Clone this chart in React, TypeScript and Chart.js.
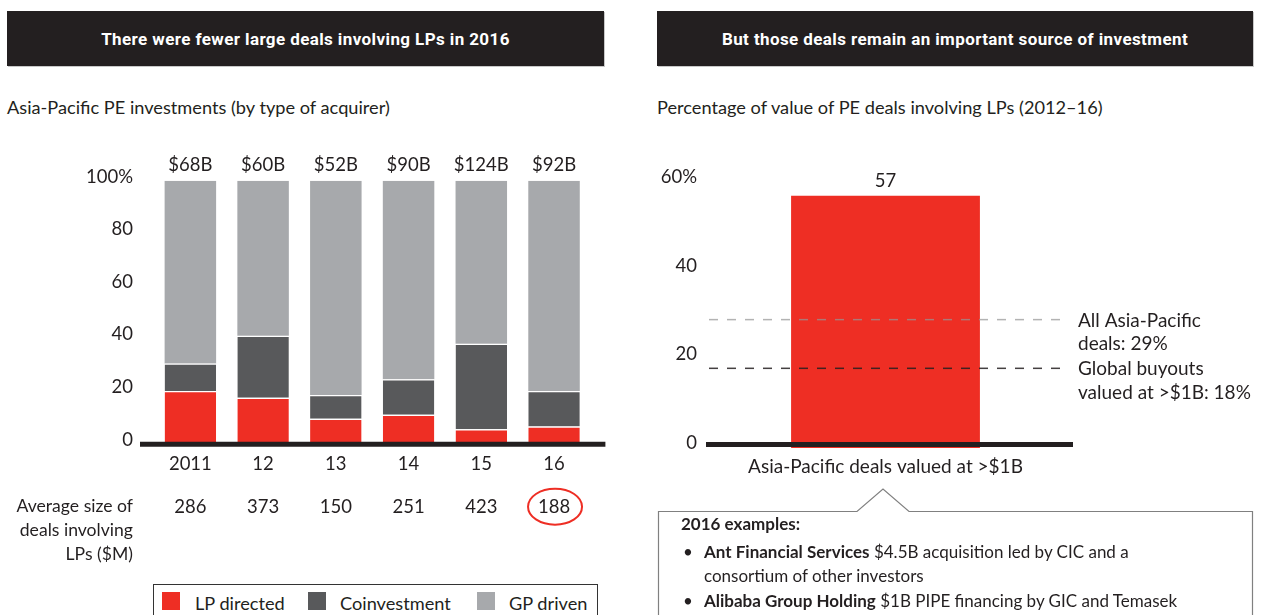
import React, { useEffect, useRef } from "react";
import { Chart, registerables } from "chart.js";

Chart.register(...registerables);

// ---------- data ----------
const years = ["2011", "12", "13", "14", "15", "16"];
const lpDirected = [20, 17.5, 9.5, 11, 5.5, 6.5];
const coinvestment = [10.5, 23.5, 9, 13.5, 32.5, 13.5];
const gpDriven = [69.5, 59, 81.5, 75.5, 62, 80];
const totalValues = ["$68B", "$60B", "$52B", "$90B", "$124B", "$92B"];
const avgDealSize = [286, 373, 150, 251, 423, 188];
const avgSizeLabel = ["Average size of", "deals involving", "LPs ($M)"];
const highlightedIndex = 5;

const seriesNames = ["LP directed", "Coinvestment", "GP driven"];
const seriesColors = ["#EE2E24", "#58595B", "#A7A9AC"];

const rightCategories = ["Asia-Pacific deals valued at >$1B"];
const rightValues = [57];
const benchmarkValues = [29, 18];
const benchmarkLabels = [
  ["All Asia-Pacific", "deals: 29%"],
  ["Global buyouts", "valued at >$1B: 18%"],
];

const TEXT = "#231f20";
const FONT = "Lato, 'Open Sans', sans-serif";
const HEAD_FONT = "Roboto, 'Open Sans', sans-serif";

Chart.defaults.font.family = FONT;
Chart.defaults.color = TEXT;

const leftPlugin = {
  id: "leftDecor",
  afterDatasetsDraw(chart: any) {
    const { ctx, chartArea, scales } = chart;
    const x = scales.x;
    const y = scales.y;
    ctx.save();
    const y0 = y.getPixelForValue(0);
    ctx.strokeStyle = TEXT;
    ctx.lineWidth = 5;
    ctx.beginPath();
    ctx.moveTo(chartArea.left - 14, y0 + 0.5);
    ctx.lineTo(chartArea.right + 15, y0 + 0.5);
    ctx.stroke();

    ctx.fillStyle = TEXT;
    ctx.font = `18.5px ${FONT}`;
    ctx.textAlign = "center";
    ctx.textBaseline = "middle";
    const yTop = y.getPixelForValue(100);
    totalValues.forEach((t, i) => ctx.fillText(t, x.getPixelForValue(i), yTop - 16));

    const rowY = y0 + 63;
    avgDealSize.forEach((v, i) => ctx.fillText(String(v), x.getPixelForValue(i), rowY));
    ctx.font = `17.6px ${FONT}`;
    ctx.textAlign = "right";
    avgSizeLabel.forEach((l, k) => ctx.fillText(l, chartArea.left - 21, rowY + k * 24));

    ctx.strokeStyle = seriesColors[0];
    ctx.lineWidth = 2;
    ctx.beginPath();
    ctx.ellipse(x.getPixelForValue(highlightedIndex) + 1, rowY, 27, 18, 0, 0, Math.PI * 2);
    ctx.stroke();
    ctx.restore();
  },
};

const rightPlugin = {
  id: "rightDecor",
  afterDatasetsDraw(chart: any) {
    const { ctx, chartArea, scales } = chart;
    const x = scales.x;
    const y = scales.y;
    ctx.save();
    const y0 = y.getPixelForValue(0);
    ctx.strokeStyle = TEXT;
    ctx.lineWidth = 5;
    ctx.beginPath();
    ctx.moveTo(chartArea.left, y0 - 3.5);
    ctx.lineTo(chartArea.right + 8, y0 - 3.5);
    ctx.stroke();

    const dashColors = ["rgba(150,150,150,0.72)", "rgba(35,31,32,0.85)"];
    benchmarkValues.forEach((v, k) => {
      const py = y.getPixelForValue(v);
      ctx.strokeStyle = dashColors[k];
      ctx.lineWidth = 1.5;
      ctx.setLineDash([9, 9]);
      ctx.beginPath();
      ctx.moveTo(chartArea.left + 3, py);
      ctx.lineTo(chartArea.right, py);
      ctx.stroke();
      ctx.setLineDash([]);
      ctx.fillStyle = TEXT;
      ctx.font = `19px ${FONT}`;
      ctx.textAlign = "left";
      ctx.textBaseline = "middle";
      benchmarkLabels[k].forEach((l, j) => ctx.fillText(l, chartArea.right + 13, py + 1 + j * 23.5));
    });

    ctx.fillStyle = TEXT;
    ctx.font = `18.5px ${FONT}`;
    ctx.textAlign = "center";
    ctx.textBaseline = "middle";
    rightValues.forEach((v, i) => ctx.fillText(String(v), x.getPixelForValue(i), y.getPixelForValue(v) - 15));
    ctx.restore();
  },
};

function LeftChart() {
  const ref = useRef<HTMLCanvasElement>(null);
  useEffect(() => {
    if (!ref.current) return;
    const values = [lpDirected, coinvestment, gpDriven];
    const chart = new Chart(ref.current, {
      type: "bar",
      data: {
        labels: years,
        datasets: seriesNames.map((name, k) => ({
          label: name,
          data: values[k],
          backgroundColor: seriesColors[k],
          borderColor: "#ffffff",
          borderWidth: k < 2 ? { top: 1.2, left: 0, right: 0, bottom: 0 } : 0,
          borderSkipped: "bottom",
          barPercentage: 0.708,
          categoryPercentage: 1,
        })),
      },
      options: {
        responsive: false,
        animation: false,
        layout: { padding: { left: 0, top: 50.7, right: 29.6, bottom: 86.3 } },
        plugins: { legend: { display: false }, tooltip: { enabled: false } },
        scales: {
          x: {
            stacked: true,
            grid: { display: false, drawTicks: false },
            border: { display: false },
            ticks: { padding: 9, font: { size: 18.5 }, color: TEXT },
            afterFit: (s: any) => {
              s.height = 40;
            },
          },
          y: {
            stacked: true,
            min: 0,
            max: 100,
            grid: { display: false, drawTicks: false },
            border: { display: false },
            ticks: {
              stepSize: 20,
              padding: 21,
              labelOffset: -4,
              font: { size: 18.5 },
              color: TEXT,
              callback: (v: any) => (v === 100 ? "100%" : String(v)),
            },
            afterFit: (s: any) => {
              s.width = 154;
            },
          },
        },
      } as any,
      plugins: [leftPlugin],
    });
    return () => chart.destroy();
  }, []);
  return (
    <canvas
      ref={ref}
      width={620}
      height={440}
      style={{ position: "absolute", left: 0, top: 130, width: 620, height: 440 }}
    />
  );
}

function RightChart() {
  const ref = useRef<HTMLCanvasElement>(null);
  useEffect(() => {
    if (!ref.current) return;
    const chart = new Chart(ref.current, {
      type: "bar",
      data: {
        labels: rightCategories,
        datasets: [
          {
            data: rightValues,
            backgroundColor: seriesColors[0],
            borderWidth: 0,
            barPercentage: 0.526,
            categoryPercentage: 1,
          },
        ],
      },
      options: {
        responsive: false,
        animation: false,
        layout: { padding: { left: 0, top: 52.4, right: 201, bottom: 12 } },
        plugins: { legend: { display: false }, tooltip: { enabled: false } },
        scales: {
          x: {
            grid: { display: false, drawTicks: false },
            border: { display: false },
            ticks: { padding: 7, font: { size: 19 }, color: TEXT },
            afterFit: (s: any) => {
              s.height = 40;
            },
          },
          y: {
            min: 0,
            max: 60,
            grid: { display: false, drawTicks: false },
            border: { display: false },
            ticks: {
              stepSize: 20,
              padding: 9,
              labelOffset: -5,
              font: { size: 18.5 },
              color: TEXT,
              callback: (v: any) => (v === 60 ? "60%" : String(v)),
            },
            afterFit: (s: any) => {
              s.width = 66;
            },
          },
        },
      } as any,
      plugins: [rightPlugin],
    });
    return () => chart.destroy();
  }, []);
  return (
    <canvas
      ref={ref}
      width={626}
      height={370}
      style={{ position: "absolute", left: 640, top: 130, width: 626, height: 370 }}
    />
  );
}

const headerStyle: React.CSSProperties = {
  position: "absolute",
  top: 11,
  height: 55,
  background: TEXT,
  color: "#ffffff",
  display: "flex",
  alignItems: "center",
  justifyContent: "center",
  fontFamily: HEAD_FONT,
  fontWeight: 700,
  fontSize: 17,
  letterSpacing: "0.4px",
  boxShadow: "1px 1px 0 #c8c8c8",
  whiteSpace: "nowrap",
};

const subStyle: React.CSSProperties = {
  position: "absolute",
  top: 96,
  lineHeight: "22px",
  fontSize: 18.2,
  color: TEXT,
  whiteSpace: "nowrap",
};

const legendX = [162, 308, 477];
const legendTextX = [195, 340, 509];

export default function App() {
  return (
    <div
      style={{
        position: "absolute",
        left: 0,
        top: 0,
        width: 1266,
        height: 615,
        overflow: "hidden",
        background: "#ffffff",
        fontFamily: FONT,
        color: TEXT,
      }}
    >
      <div style={{ ...headerStyle, left: 7, width: 597 }}>There were fewer large deals involving LPs in 2016</div>
      <div style={{ ...headerStyle, left: 657, width: 596 }}>But those deals remain an important source of investment</div>
      <div style={{ ...subStyle, left: 7 }}>Asia-Pacific PE investments (by type of acquirer)</div>
      <div style={{ ...subStyle, left: 657 }}>Percentage of value of PE deals involving LPs (2012–16)</div>

      <LeftChart />
      <RightChart />

      <div
        style={{
          position: "absolute",
          left: 153,
          top: 584,
          width: 445,
          height: 50,
          border: "1.5px solid #333",
          boxSizing: "border-box",
        }}
      />
      {seriesNames.map((name, k) => (
        <React.Fragment key={name}>
          <div
            style={{
              position: "absolute",
              left: legendX[k],
              top: 592,
              width: 18,
              height: 18,
              background: seriesColors[k],
            }}
          />
          <div
            style={{
              position: "absolute",
              left: legendTextX[k],
              top: 590,
              lineHeight: "26px",
              fontSize: 18.2,
              whiteSpace: "nowrap",
            }}
          >
            {name}
          </div>
        </React.Fragment>
      ))}

      <svg
        width={626}
        height={145}
        style={{ position: "absolute", left: 640, top: 480 }}
      >
        <path
          d="M 18.5 160 L 18.5 31.5 L 217 31.5 L 243 9 L 269 31.5 L 612.5 31.5 L 612.5 160"
          fill="none"
          stroke="#808080"
          strokeWidth={1.2}
        />
      </svg>
      <div style={{ position: "absolute", left: 681, top: 512, lineHeight: "24px", fontSize: 17, fontWeight: 700, whiteSpace: "nowrap" }}>
        2016 examples:
      </div>
      <div style={{ position: "absolute", left: 683, top: 540, lineHeight: "24px", fontSize: 17 }}>•</div>
      <div style={{ position: "absolute", left: 704, top: 540, lineHeight: "24px", fontSize: 17, whiteSpace: "nowrap" }}>
        <b>Ant Financial Services</b> $4.5B acquisition led by CIC and a
      </div>
      <div style={{ position: "absolute", left: 704, top: 564, lineHeight: "24px", fontSize: 17, whiteSpace: "nowrap" }}>
        consortium of other investors
      </div>
      <div style={{ position: "absolute", left: 683, top: 589, lineHeight: "24px", fontSize: 17 }}>•</div>
      <div style={{ position: "absolute", left: 704, top: 589, lineHeight: "24px", fontSize: 17, whiteSpace: "nowrap" }}>
        <b>Alibaba Group Holding</b> $1B PIPE financing by GIC and Temasek
      </div>
    </div>
  );
}
